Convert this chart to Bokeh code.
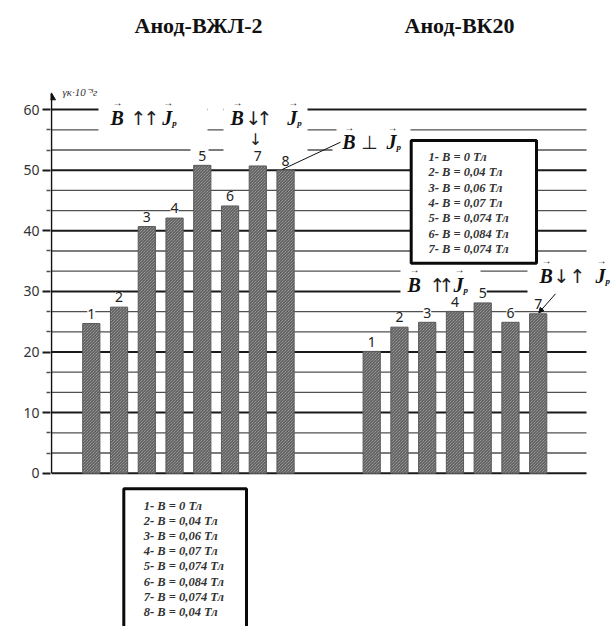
from bokeh.plotting import figure
from bokeh.models import Range1d, FixedTicker, Arrow, NormalHead
from bokeh.core.properties import value
from bokeh.embed import file_html
from bokeh.resources import INLINE

# ---------------- data ----------------
left_labels = ["1", "2", "3", "4", "5", "6", "7", "8"]
left_values = [24.7, 27.4, 40.7, 42.1, 50.8, 44.1, 50.7, 50.0]
right_labels = ["1", "2", "3", "4", "5", "6", "7"]
right_values = [20.1, 24.1, 24.9, 26.7, 28.1, 24.9, 26.3]
left_title = "Анод-ВЖЛ-2"
right_title = "Анод-ВК20"
left_B = ["0", "0,04", "0,06", "0,07", "0,074", "0,084", "0,074", "0,04"]
right_B = ["0", "0,04", "0,06", "0,07", "0,074", "0,084", "0,074"]
major_ticks = [0, 10, 20, 30, 40, 50, 60]
minor_ticks = [round(10 * k / 3, 3) for k in range(1, 19) if k % 3]
y_label = "γк·10⁻³г"

# ---------------- layout helpers (pixel -> data) ----------------
W, H = 613, 626
X0, XS, Y0, YS = 90.8, 27.75, 472.7, 6.06
def dx(ix):
    return 1 + (ix - X0) / XS
def dy(iy):
    return (Y0 - iy) / YS

left_x = [i + 1 for i in range(len(left_values))]
right_x = [dx(371.2) + i for i in range(len(right_values))]
BAR_W = 0.62

p = figure(width=W, height=H, x_range=Range1d(dx(50), dx(W)),
           y_range=Range1d(dy(H), dy(0)), x_axis_location=None,
           toolbar_location=None, output_backend="svg",
           min_border_left=50, min_border_right=0, min_border_top=0, min_border_bottom=0)
p.outline_line_color = None
p.grid.visible = False
p.background_fill_color = "white"

ax = p.yaxis[0]
ax.ticker = FixedTicker(ticks=major_ticks, minor_ticks=minor_ticks)
ax.axis_line_color = None
ax.major_tick_in = 0
ax.major_tick_out = 8
ax.major_tick_line_width = 2
ax.major_tick_line_color = "#1a1a1a"
ax.minor_tick_in = 0
ax.minor_tick_out = 4
ax.minor_tick_line_width = 1.3
ax.minor_tick_line_color = "#505050"
ax.major_label_standoff = 3
ax.major_label_text_font = "Noto Sans"
ax.major_label_text_font_size = "14px"
ax.major_label_text_color = "#333333"

# grid lines
gx0, gx1 = dx(51), dx(586)
p.segment(x0=[gx0] * len(minor_ticks), x1=[gx1] * len(minor_ticks), y0=minor_ticks, y1=minor_ticks,
          line_color="#505050", line_width=1.3)
p.segment(x0=[gx0] * len(major_ticks), x1=[gx1] * len(major_ticks), y0=major_ticks, y1=major_ticks,
          line_color="#1a1a1a", line_width=2)

# white masks where the grid lines are interrupted
masks = [(98, 207, 100, 133), (207, 223, 100, 116), (223, 307, 100, 133), (336, 410, 123, 133),
         (190, 208, 144, 155), (223, 307, 144, 155), (332, 410, 144, 155),
         (400, 480, 258, 297), (527, 590, 256, 297)]
p.quad(left=[dx(m[0]) for m in masks], right=[dx(m[1]) for m in masks],
       top=[dy(m[2]) for m in masks], bottom=[dy(m[3]) for m in masks],
       fill_color="white", line_color=None)

# y axis line with arrow
p.segment(x0=[dx(51)], x1=[dx(51)], y0=[0], y1=[dy(97)], line_color="#111111", line_width=1.5)
p.scatter(x=[dx(51)], y=[dy(97)], marker="triangle", size=8, fill_color="#111111", line_color="#111111")
p.text(x=[dx(62)], y=[dy(91)], text=[y_label], text_font=value("Liberation Serif"),
       text_font_style="italic", text_font_size="11px", text_align="left", text_baseline="middle",
       text_color="#333333")

# bars
bar_style = dict(width=BAR_W, bottom=0, fill_color="#b4b4b4", hatch_pattern="left_diagonal_line",
                 hatch_color="#4a4a4a", hatch_scale=3, hatch_weight=1, line_color="#5a5a5a", line_width=1)
p.vbar(x=left_x, top=left_values, **bar_style)
p.vbar(x=right_x, top=right_values, **bar_style)

num_style = dict(text_font=value("Noto Sans"), text_font_size="14px", text_align="center",
                 text_baseline="middle", text_color="#222222", background_fill_color="white")
p.text(x=left_x, y=[v + 1.6 for v in left_values], text=left_labels, **num_style)
p.text(x=right_x, y=[v + 1.6 for v in right_values], text=right_labels, **num_style)

# titles
p.text(x=[dx(198), dx(459)], y=[dy(25)] * 2, text=[left_title, right_title],
       text_font=value("Liberation Serif"), text_font_style="bold", text_font_size="22px",
       text_align="center", text_baseline="middle", text_color="#111111")

# vector expressions
def vec_expr(bx, by, ops, jx):
    serif = value("Liberation Serif")
    p.text(x=[dx(bx), dx(jx)], y=[dy(by)] * 2, text=["B", "J"], text_font=serif,
           text_font_style="bold italic", text_font_size="20px", text_align="left",
           text_baseline="middle", text_color="#111111")
    p.text(x=[dx(ox) for ox, _ in ops], y=[dy(by)] * len(ops), text=[o for _, o in ops],
           text_font=value("DejaVu Sans"), text_font_size="19px", text_align="center",
           text_baseline="middle", text_color="#222222")
    p.text(x=[dx(jx + 10)], y=[dy(by + 5)], text=["р"], text_font=serif,
           text_font_style="bold italic", text_font_size="9px", text_align="left",
           text_baseline="middle", text_color="#111111")
    p.text(x=[dx(bx + 7), dx(jx + 6)], y=[dy(by - 15)] * 2, text=["→", "→"], text_font=serif,
           text_font_size="10px", text_align="center", text_baseline="middle", text_color="#111111")

vec_expr(110, 117, [(138, "↑"), (151, "↑")], 161.7)
vec_expr(230, 117, [(253, "↓"), (264, "↑")], 286.7)
vec_expr(341.7, 141.7, [(369, "⊥")], 386)
vec_expr(407, 284, [(437, "↑"), (446, "↑")], 453)
vec_expr(539, 275, [(561, "↓"), (577, "↑")], 595)
p.text(x=[dx(255)], y=[dy(139)], text=["↓"], text_font=value("DejaVu Sans"), text_font_size="16px",
       text_align="center", text_baseline="middle", text_color="#222222")

# leader lines
p.segment(x0=[dx(281.7)], y0=[dy(169)], x1=[dx(340)], y1=[dy(141.7)], line_color="#111111", line_width=1)
p.add_layout(Arrow(end=NormalHead(size=5, fill_color="#111111", line_color="#111111"),
                   x_start=dx(555), y_start=dy(293.3), x_end=dx(538.3), y_end=dy(312.3),
                   line_color="#111111", line_width=1))

# legend boxes
p.quad(left=[dx(410.7), dx(123.3)], right=[dx(536), dx(246)], top=[dy(140), dy(488.3)],
       bottom=[dy(262.7), dy(650)], fill_color="white", line_color="#0a0a0a", line_width=3)
leg_style = dict(text_font=value("Liberation Serif"), text_font_style="bold italic",
                 text_font_size="12.5px", text_align="left", text_baseline="middle", text_color="#333333")
p.text(x=[dx(428)] * len(right_B), y=[dy(156.7 + 15.27 * k) for k in range(len(right_B))],
       text=[f"{k + 1}- B = {b} Тл" for k, b in enumerate(right_B)], **leg_style)
p.text(x=[dx(143.3)] * len(left_B), y=[dy(505 + 15.24 * k) for k in range(len(left_B))],
       text=[f"{k + 1}- B = {b} Тл" for k, b in enumerate(left_B)], **leg_style)

open("out.html", "w").write(file_html(p, INLINE))
